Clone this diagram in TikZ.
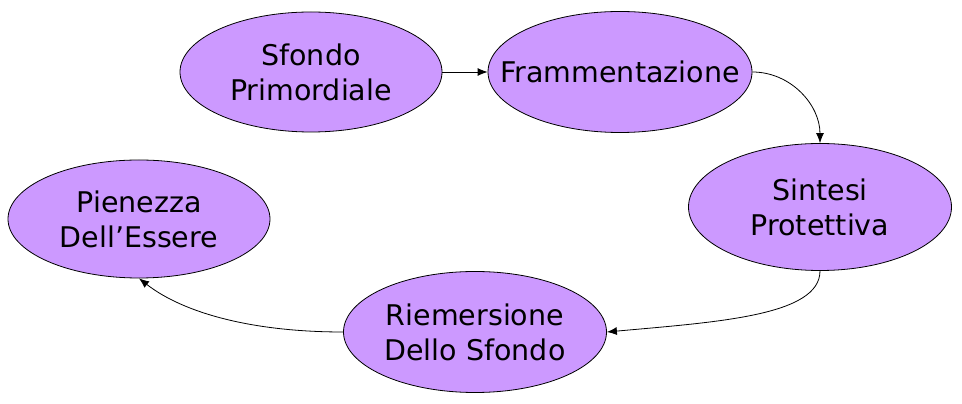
\documentclass[tikz,border=0pt]{standalone}
\usepackage{fontspec}
\setmainfont{DejaVu Sans}
\usepackage{tikz}
\usetikzlibrary{shapes.geometric,arrows.meta}
\definecolor{lilla}{HTML}{CC99FF}

\begin{document}
\begin{tikzpicture}[x=1pt,y=1pt,
	tappa/.style={draw, ellipse, fill=lilla, line width=0.8pt, inner sep=-40pt,
		minimum width=262pt, minimum height=120pt, align=center,
		font=\fontsize{28.5}{35}\selectfont}]
	\useasboundingbox (0,0) rectangle (962,404);
	\node[tappa] (SP) at (311,332)
	{Sfondo\\Primordiale};%
	\node[tappa, minimum width=264pt, minimum height=121pt] (FR) at (620,332)
	{Frammentazione};%
	\node[tappa, minimum width=263pt, minimum height=127pt] (SI) at (820,197)
	{Sintesi\\Protettiva};
	\node[tappa, minimum width=263pt, minimum height=121pt] (RI) at (475,72)
	{Riemersione\\Dello Sfondo};
	\node[tappa, minimum height=118pt] (PI) at (139,185)
	{Pienezza\\Dell’Essere};
	
	\draw[->,>={Latex[length=10pt,width=8pt]},line width=0.8pt] (SP) -- (FR) ;
	\draw[->,>={Latex[length=10pt,width=8pt]},line width=0.8pt] (FR.east) to[out=0,in=90] (SI.north) ;
	\draw[->,>={Latex[length=10pt,width=8pt]},line width=0.8pt] (SI.south) .. controls +(0,-45) and +(110,10) .. (RI.east) ;
	\draw[->,>={Latex[length=10pt,width=8pt]},line width=0.8pt] (RI.west) .. controls +(-90,0) and +(45,-35) .. (PI.south) ;
\end{tikzpicture}
\end{document}
